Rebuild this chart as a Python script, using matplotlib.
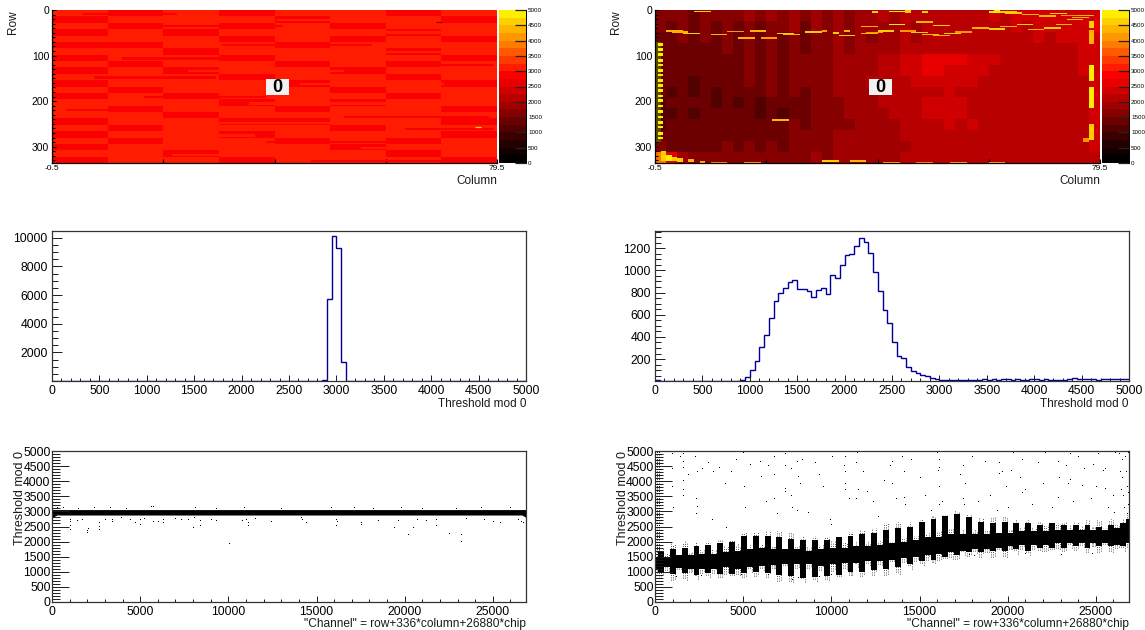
import numpy as np
import matplotlib
matplotlib.use("Agg")
import matplotlib.pyplot as plt
from matplotlib.colors import ListedColormap, BoundaryNorm
from matplotlib.patches import Rectangle
from matplotlib.ticker import MultipleLocator

plt.rcParams['font.family'] = ['Liberation Sans', 'DejaVu Sans']

# threshold maps, coarse cells (row blocks x column blocks)
map_left = [
    [3010, 2960, 3080, 2990, 3060, 3020, 2970, 3050],
    [2970, 3070, 3000, 3040, 2980, 3090, 3030, 2980],
    [3060, 2980, 3040, 2950, 3080, 2990, 3060, 3010],
    [2940, 3030, 2970, 3090, 3010, 3050, 2960, 3070],
    [3050, 3090, 3020, 2980, 3060, 2970, 3040, 2990],
    [2980, 2950, 3070, 3030, 2960, 3080, 3010, 3050],
    [3030, 3060, 2980, 3100, 3040, 3000, 2970, 3080],
    [2960, 3010, 3050, 2970, 3090, 3030, 3060, 2990],
    [3070, 2970, 3020, 3050, 2980, 3060, 2990, 3040],
    [2990, 3080, 2960, 3010, 3070, 2950, 3050, 3020],
    [3040, 3000, 3090, 2980, 3030, 3080, 2970, 3060],
    [2950, 3060, 3010, 3070, 2960, 3020, 3090, 2980],
    [3060, 2980, 3040, 3000, 3080, 2990, 3030, 3050],
    [2970, 3050, 2990, 3090, 3020, 3060, 2960, 3010],
    [3080, 3010, 3060, 2960, 3040, 2980, 3070, 3030],
    [3000, 2960, 3030, 3070, 2990, 3050, 3010, 2970],
    [3050, 3090, 2970, 3020, 3060, 3000, 3080, 3040],
    [2960, 3020, 3080, 2990, 2950, 3070, 3030, 2990],
    [3070, 2990, 3030, 3060, 3090, 2970, 3010, 3060],
    [2980, 3060, 3000, 2950, 3040, 3030, 3080, 2970],
    [3040, 2970, 3090, 3030, 2990, 3060, 2980, 3050],
    [2950, 3080, 3010, 3060, 3020, 2960, 3070, 3010],
    [3060, 3000, 2960, 3040, 3080, 3020, 2990, 3030],
    [2990, 3040, 3070, 2980, 3010, 3090, 3050, 2960],
]
# short row segments that break up the cells: row, first column, last column, threshold
seg_row_left = [6, 20, 33, 47, 61, 75, 90, 104, 118, 131, 146, 160, 174, 189, 203, 217, 232, 246, 259, 273, 287, 301, 316, 329]
seg_c0_left = [5, 40, 18, 58, 3, 30, 49, 12, 66, 24, 7, 44, 60, 16, 35, 2, 52, 27, 63, 10, 38, 55, 21, 46]
seg_c1_left = [22, 68, 41, 78, 26, 57, 75, 33, 79, 52, 29, 70, 79, 38, 64, 19, 78, 50, 79, 36, 62, 77, 43, 72]
seg_val_left = [2900, 3100, 2900, 3100, 3100, 2900, 3100, 2900, 2900, 3100, 2900, 3100, 3100, 2900, 3100, 2900, 2900, 3100, 2900, 3100, 2900, 3100, 3100, 2900]
map_right = [
    [1700, 1500, 1650, 1450, 1700, 1500, 1700, 1550, 1800, 1500, 1750, 1600, 1850, 1550, 1800, 1650, 1900, 1700, 1950, 1850, 2000, 1950, 2100, 2000, 2150, 2050, 2200, 2100, 2200, 2150, 2250, 2200, 2300, 2250, 2350, 2300, 2350, 2300, 2400, 2450],
    [1550, 1450, 1600, 1400, 1600, 1400, 1650, 1450, 1700, 1450, 1700, 1500, 1750, 1450, 1750, 1550, 1800, 1600, 1850, 1750, 1950, 1900, 2000, 1950, 2100, 2000, 2100, 2050, 2150, 2100, 2200, 2150, 2250, 2200, 2250, 2250, 2300, 2250, 2350, 2500],
    [1400, 1350, 1500, 1300, 1500, 1300, 1550, 1400, 1600, 1400, 1650, 1450, 1700, 1400, 1700, 1500, 1750, 1600, 1800, 1700, 1900, 1850, 2000, 1950, 2050, 2000, 2100, 2050, 2150, 2100, 2150, 2150, 2200, 2150, 2250, 2200, 2250, 2250, 2300, 2450],
    [1350, 1300, 1450, 1250, 1450, 1250, 1500, 1350, 1600, 1350, 1650, 1450, 1700, 1400, 1700, 1550, 1800, 1650, 1850, 1800, 1950, 1950, 2050, 2050, 2150, 2150, 2200, 2200, 2200, 2200, 2200, 2150, 2200, 2200, 2200, 2200, 2200, 2200, 2250, 2400],
    [1300, 1300, 1400, 1250, 1400, 1300, 1450, 1350, 1550, 1350, 1600, 1450, 1650, 1500, 1700, 1600, 1800, 1750, 1900, 1900, 2000, 2100, 2250, 2350, 2550, 2600, 2650, 2600, 2400, 2300, 2250, 2200, 2200, 2150, 2200, 2200, 2200, 2200, 2250, 2400],
    [1300, 1250, 1400, 1250, 1400, 1250, 1450, 1300, 1550, 1350, 1600, 1450, 1650, 1500, 1700, 1650, 1800, 1800, 1900, 1950, 2050, 2150, 2250, 2350, 2500, 2500, 2450, 2400, 2300, 2250, 2200, 2200, 2200, 2150, 2200, 2150, 2200, 2200, 2250, 2350],
    [1250, 1250, 1350, 1200, 1350, 1250, 1400, 1250, 1500, 1300, 1550, 1400, 1600, 1500, 1700, 1650, 1800, 1850, 1950, 2000, 2050, 2100, 2200, 2250, 2300, 2300, 2300, 2250, 2250, 2200, 2200, 2150, 2200, 2150, 2150, 2150, 2200, 2200, 2200, 2350],
    [1250, 1200, 1350, 1200, 1300, 1200, 1350, 1250, 1400, 1250, 1500, 1300, 1500, 1400, 1650, 1600, 1750, 1800, 1900, 1950, 2000, 2050, 2100, 2150, 2200, 2200, 2250, 2200, 2200, 2200, 2150, 2150, 2150, 2150, 2150, 2150, 2200, 2150, 2200, 2300],
    [1200, 1250, 1300, 1250, 1300, 1200, 1350, 1200, 1350, 1200, 1400, 1250, 1450, 1350, 1600, 1600, 1700, 1800, 1850, 1950, 2000, 2050, 2150, 2200, 2300, 2350, 2300, 2250, 2200, 2150, 2200, 2150, 2150, 2150, 2150, 2150, 2150, 2150, 2200, 2300],
    [1200, 1200, 1300, 1200, 1300, 1250, 1350, 1250, 1400, 1200, 1350, 1200, 1450, 1350, 1550, 1550, 1700, 1750, 1850, 1900, 1950, 2000, 2100, 2150, 2250, 2300, 2350, 2250, 2200, 2150, 2150, 2150, 2150, 2100, 2150, 2150, 2150, 2150, 2150, 2250],
    [1200, 1250, 1300, 1250, 1300, 1250, 1350, 1300, 1400, 1250, 1400, 1300, 1500, 1400, 1600, 1550, 1700, 1700, 1800, 1850, 1900, 1950, 2050, 2100, 2150, 2150, 2250, 2150, 2250, 2150, 2150, 2100, 2150, 2100, 2150, 2100, 2150, 2150, 2200, 2350],
    [1300, 1300, 1350, 1300, 1350, 1300, 1400, 1300, 1450, 1350, 1450, 1350, 1550, 1500, 1650, 1600, 1750, 1750, 1800, 1850, 1900, 1900, 2000, 2050, 2100, 2050, 2150, 2100, 2150, 2100, 2150, 2100, 2100, 2100, 2100, 2100, 2100, 2150, 2200, 2300],
    [1500, 1450, 1450, 1400, 1450, 1400, 1500, 1400, 1550, 1450, 1550, 1450, 1650, 1550, 1700, 1600, 1750, 1750, 1800, 1850, 1900, 1900, 1950, 2000, 2050, 2050, 2100, 2050, 2100, 2050, 2100, 2050, 2100, 2050, 2100, 2100, 2100, 2100, 2150, 2250],
    [3800, 2700, 1800, 1500, 1550, 1500, 1550, 1500, 1600, 1500, 1650, 1550, 1700, 1650, 1750, 1700, 1800, 1800, 1850, 1850, 1900, 1950, 2000, 2000, 2050, 2050, 2100, 2050, 2100, 2050, 2100, 2050, 2100, 2050, 2100, 2050, 2100, 2100, 2150, 2200],
]
# hot streaks on the right map: column, row, row height, threshold
hot_col = [78, 78, 78, 78, 78, 77, 2, 3, 5, 7, 10, 13, 15, 17, 19, 22, 23, 27, 30, 32, 34, 37, 40, 42, 44, 46, 48, 50, 52, 54, 57, 60, 62, 65, 67, 70, 72, 74, 75, 76, 39, 42, 45, 48, 60, 61, 62, 47, 50, 33, 37, 38, 21, 1, 2, 3, 4, 6, 8, 10, 30, 35, 41, 47, 53, 60, 16, 63, 66, 69, 71, 73]
hot_row = [25, 45, 120, 170, 250, 280, 45, 47, 50, 2, 52, 46, 60, 45, 60, 50, 52, 47, 45, 48, 45, 50, 45, 30, 45, 48, 52, 55, 50, 47, 38, 40, 35, 30, 42, 38, 30, 20, 15, 10, 3, 2, 1, 2, 2, 1, 3, 25, 33, 55, 35, 48, 240, 310, 318, 322, 326, 328, 332, 333, 330, 330, 333, 333, 333, 333, 333, 5, 8, 12, 6, 10]
hot_h = [14, 30, 35, 45, 35, 10, 3, 3, 3, 3, 3, 3, 3, 3, 3, 3, 3, 3, 4, 4, 4, 3, 3, 3, 3, 3, 3, 3, 3, 3, 3, 3, 3, 3, 3, 3, 3, 3, 3, 3, 4, 3, 6, 4, 4, 6, 3, 3, 3, 3, 3, 3, 3, 22, 14, 10, 8, 6, 4, 3, 3, 3, 3, 3, 3, 3, 3, 3, 3, 3, 3, 3]
hot_val = [4700, 4300, 4800, 4800, 4500, 4200, 4300, 4400, 4500, 4600, 4300, 4200, 4400, 4300, 4200, 4700, 4300, 4500, 4200, 4600, 4300, 4400, 4500, 4800, 4200, 4500, 4400, 4300, 4600, 4200, 4400, 4500, 4300, 4600, 4400, 4500, 4300, 4600, 4400, 4300, 4700, 4800, 4700, 4500, 4800, 4900, 4700, 4300, 4500, 4700, 4300, 4200, 4400, 4600, 4800, 4700, 4500, 4300, 4300, 4200, 4500, 4300, 4400, 4200, 4400, 4300, 4300, 4500, 4400, 4300, 4500, 4200]
# first column of the right map, dashes along rows 70 to 290
edge_rows = [72, 84, 94, 108, 118, 130, 140, 152, 162, 174, 186, 196, 208, 220, 232, 244, 254, 268, 278]
edge_val = 4800
streak_col = [76, 69]
streak_row = [256, 27]
streak_val = [4600, 1600]

# threshold histograms, 100 bins of 50 from 0 to 5000
hist_left = [0] * 56 + [8, 60, 5750, 10150, 9300, 1300, 30, 5] + [0] * 36
hist_right = [14, 3, 2, 2, 2, 2, 2, 2, 2, 2, 2, 2, 2, 2, 2, 2, 3, 5, 8, 40,
              100, 185, 305, 420, 570, 725, 800, 840, 895, 910, 835, 830, 815, 760, 820, 840, 790, 955, 930, 1045,
              1135, 1150, 1220, 1290, 1255, 1160, 985, 810, 640, 525, 355, 230, 205, 125, 90, 70, 55, 45, 30, 20,
              15, 14, 13, 12, 10, 14, 12, 15, 13, 18, 14, 16, 12, 18, 16, 14, 16, 15, 14, 18,
              17, 15, 16, 14, 13, 15, 12, 22, 28, 22, 24, 21, 16, 14, 20, 18, 18, 20, 19, 20]

# scatter band of the right panel, one edge pair per column of 336 channels
band_x = list(range(0, 26881, 336))
band_lo_right = [1100, 950, 1150, 930, 1120, 950, 1100, 900, 1100, 950, 1100, 930, 1150, 920, 1100,
                 950, 1150, 1000, 1200, 970, 1220, 900, 1250, 870, 1250, 800, 1250, 820, 1200, 850,
                 1250, 900, 1300, 1000, 1300, 1000, 1350, 1050, 1350, 1100, 1400, 1150, 1450, 1250, 1500,
                 1350, 1550, 1400, 1600, 1500, 1650, 1550, 1700, 1650, 1750, 1650, 1750, 1700, 1800, 1700,
                 1850, 1750, 1900, 1700, 1900, 1800, 1900, 1800, 1950, 1800, 1950, 1850, 1950, 1800, 1950,
                 1850, 1950, 1850, 1900, 1850, 1950]
band_hi_right = [1500, 1650, 1500, 1750, 1550, 1800, 1550, 1850, 1600, 1900, 1600, 1950, 1650, 2000, 1700,
                 2200, 1750, 2200, 1800, 2200, 1750, 2150, 1750, 2100, 1750, 2050, 1700, 2050, 1750, 2050,
                 1800, 2150, 1800, 2200, 1850, 2250, 1850, 2300, 1900, 2400, 1950, 2450, 2000, 2500, 2050,
                 2650, 2150, 2750, 2150, 2850, 2250, 2900, 2250, 2800, 2250, 2650, 2250, 2600, 2300, 2650,
                 2300, 2600, 2350, 2600, 2350, 2550, 2350, 2600, 2400, 2550, 2400, 2550, 2400, 2550, 2400,
                 2500, 2400, 2550, 2450, 2600, 2750]
band_lo_left = [2800, 2880, 2880, 2800]
band_hi_left = [3060, 3060, 3060, 3060]
band_x_left = [0, 280, 26650, 26880]
speck_pad = [60, 150, 90, 210, 40, 170, 110, 20, 130]

# outlying channels
out_x_left = [1000, 1000, 1000, 1000, 1400, 1700, 2000, 2000, 2050, 2650, 2650, 2650, 3000, 3400, 3400, 3900, 4400, 4700, 5000, 5000, 5200, 5700, 6000, 6300, 6300, 7000, 7300, 7700, 8000, 8050, 8400, 8400, 9000, 9300, 10050, 10800, 11000, 11100, 11100, 11500, 12400, 14100, 14200, 14400, 16100, 16100, 16150, 17500, 17500, 18500, 19400, 19600, 20200, 20500, 20700, 21200, 21800, 21800, 22500, 23200, 23200, 23500, 24500, 25000, 25400, 26400, 26600, 26700, 300, 600, 1500, 2400, 3300, 4200, 5600, 5700, 8100, 9300, 10900, 13000, 15800, 17100, 18200, 19800, 21000, 22900, 24300, 26000]
out_y_left = [2720, 2640, 2510, 2400, 2680, 2700, 2350, 2300, 2410, 2500, 2390, 2620, 2700, 2730, 2650, 2780, 2720, 2600, 2550, 2720, 2750, 2640, 2660, 2620, 2720, 2760, 2700, 2720, 2450, 2780, 2530, 2680, 2730, 2690, 1910, 2680, 2720, 2510, 2620, 2750, 2640, 2770, 2700, 2620, 2510, 2700, 2640, 2610, 2540, 2680, 2440, 2680, 2230, 2450, 2720, 2680, 2510, 2700, 2260, 2000, 2210, 2750, 2700, 2640, 2620, 2720, 2660, 2620, 3120, 3100, 3090, 3100, 3110, 3090, 3130, 3160, 3100, 3090, 3110, 3090, 3100, 3100, 3090, 3110, 3090, 3090, 3100, 3100]
out_x_right = [950, 950, 950, 1000, 1400, 1600, 1600, 1600, 1600, 1850, 2250, 2350, 2350, 2650, 3000, 3250, 3300, 3650, 3950, 4050, 4300, 4600, 5000, 5100, 5050, 5950, 6000, 6300, 6400, 6900, 7350, 7400, 7700, 7700, 7750, 8100, 8250, 8350, 8700, 9100, 9300, 9500, 9950, 10000, 10050, 10700, 10750, 11000, 11450, 11500, 11800, 12000, 12350, 12650, 13000, 13300, 13650, 14000, 14200, 14500, 15000, 15300, 15650, 16000, 16050, 16100, 16300, 17300, 17500, 17600, 18000, 18300, 18700, 19000, 19400, 19700, 19900, 20000, 20300, 20700, 21000, 21400, 21700, 22000, 22100, 22500, 22900, 23300, 23400, 23700, 24000, 24300, 24700, 25000, 25100, 25400, 25700, 26000, 26050, 26100, 7750, 8100, 9300, 10000, 15000, 21000, 23000, 24800, 1200, 2600, 4900, 6400, 13800, 18100, 17800, 26300, 26350, 26400, 26500, 26500, 26550, 26600, 26650, 26700, 26750, 26800, 26850, 26800, 26750, 26700,
               1610, 1610, 2360, 2360, 3310, 5380, 6720, 6720, 6720, 7390, 7390, 8060, 8060, 10750, 10750, 10750, 11420, 11420, 13440, 13440, 14110, 14110, 16130, 16130, 16130, 17470, 17470, 19490, 19490, 20160, 20830, 20830, 22850, 22850, 23520, 23520, 24190, 24860, 25530, 25530]
out_y_right = [4900, 4400, 3800, 3100, 4800, 4900, 4450, 4000, 3500, 4200, 4800, 3400, 2900, 4400, 4600, 2700, 5000, 4450, 3900, 2450, 4300, 4700, 4950, 3100, 3800, 4650, 4150, 3300, 4500, 2900, 3650, 4900, 4400, 3500, 3100, 4150, 3900, 4700, 2950, 4600, 4200, 3800, 2700, 2550, 4800, 4500, 3900, 3400, 4950, 3700, 4300, 3650, 3300, 2800, 4000, 4500, 3400, 4800, 3200, 4700, 4100, 3500, 3000, 4950, 4350, 3200, 3300, 4200, 3200, 3900, 4800, 3300, 4650, 3500, 3000, 4300, 3800, 3100, 4950, 4100, 3700, 3200, 4600, 3900, 4950, 3100, 4100, 4500, 3900, 3300, 4800, 4400, 3400, 3800, 4900, 4350, 3100, 3500, 2950, 4950, 730, 800, 820, 900, 1400, 1600, 1550, 1580, 820, 860, 880, 890, 1200, 1520, 1560, 4900, 4300, 3700, 4700, 4100, 3500, 3100, 4800, 4300, 3800, 3200, 4950, 3600, 2900, 2700,
               4650, 3700, 4300, 3150, 4300, 4550, 4800, 4200, 3400, 4500, 3750, 4650, 3000, 4800, 4300, 3700, 4600, 3400, 4650, 3900, 4300, 3450, 4700, 4450, 3800, 4500, 3400, 4600, 4250, 4350, 4700, 3600, 4650, 3450, 4900, 4050, 3850, 4550, 4400, 3750]
strip_col_x = [100, 230]

# colour scale, 20 steps of 250, bottom to top
level_colors = ['#000000', '#120000', '#240000', '#3a0000', '#520000', '#6c0000', '#860000', '#a00000', '#b80000', '#d00000',
                '#e80000', '#fa0000', '#ff1c00', '#ff3a00', '#ff5a00', '#ff7a00', '#ff9800', '#ffb400', '#ffd000', '#ffee00']
cmap = ListedColormap(level_colors)
norm = BoundaryNorm(np.arange(0, 5001, 250), 20)
dark = '#1a1a1a'


def make_ax(fig, x0, y0, x1, y1):
    # axes from picture pixels
    return fig.add_axes([x0 / 1145, 1 - y1 / 630, (x1 - x0) / 1145, (y1 - y0) / 630])


def heat(ax, cax, grid, label_x):
    grid = np.array(grid)
    col_edges = np.linspace(-0.5, 79.5, grid.shape[1] + 1)
    row_edges = np.linspace(0, 336, grid.shape[0] + 1)
    ax.pcolormesh(col_edges, row_edges, grid, cmap=cmap, norm=norm, rasterized=True)
    ax.set_xlim(-0.5, 79.5)
    ax.set_ylim(336, 0)
    ax.set_xticks([-0.5, 19.5, 39.5, 59.5, 79.5])
    ax.set_xticklabels(['-0.5', '', '', '', '79.5'])
    ax.yaxis.set_major_locator(MultipleLocator(100))
    ax.yaxis.set_minor_locator(MultipleLocator(10))
    ax.tick_params(axis='both', which='major', direction='in', length=3, width=0.8, pad=2)
    ax.tick_params(axis='x', labelsize=6, pad=1.5)
    ax.tick_params(axis='y', labelsize=7.5)
    ax.tick_params(axis='y', which='minor', direction='in', length=2, width=0.8)
    ax.text(1.0, -0.118, 'Column', transform=ax.transAxes, ha='right', va='center', fontsize=8.5, color=dark)
    ax.text(label_x, 1.0, 'Row', transform=ax.transAxes, ha='center', va='top', rotation=90, fontsize=8.5, color=dark)
    ax.add_patch(Rectangle((0.481, 0.444), 0.052, 0.105, transform=ax.transAxes, facecolor='#f2f2f2', edgecolor='none', zorder=6))
    ax.text(0.507, 0.494, '0', transform=ax.transAxes, ha='center', va='center', fontsize=13, fontweight='bold', zorder=7)
    for s in ['top', 'right']:
        ax.spines[s].set_visible(False)
    for s in ['left', 'bottom']:
        ax.spines[s].set_linewidth(0.9)
    # colour scale
    levels = np.arange(0, 5001, 250)
    cax.pcolormesh([0, 1], levels, (levels[:-1] + 125).reshape(-1, 1), cmap=cmap, norm=norm, rasterized=True)
    cax.set_xticks([])
    cax.set_ylim(0, 5000)
    cax.yaxis.tick_right()
    cax.set_yticks(np.arange(0, 5001, 500))
    cax.tick_params(axis='y', direction='in', length=8, width=0.9, labelsize=4.5, pad=1.5, color='#222222')
    for s in ['top', 'left', 'bottom']:
        cax.spines[s].set_visible(False)
    cax.spines['right'].set_linewidth(0.7)


def hist(ax, values, y_lim, y_major, y_minor):
    edges = np.arange(0, 5001, 50)
    ax.stairs(values, edges, color='#000099', linewidth=1.0, baseline=None)
    ax.set_xlim(0, 5000)
    ax.set_ylim(*y_lim)
    ax.xaxis.set_major_locator(MultipleLocator(500))
    ax.xaxis.set_minor_locator(MultipleLocator(100))
    ax.yaxis.set_major_locator(MultipleLocator(y_major))
    ax.yaxis.set_minor_locator(MultipleLocator(y_minor))
    ax.tick_params(axis='both', which='major', direction='in', length=4, width=0.7, labelsize=8.8, pad=3, color=dark)
    ax.tick_params(axis='y', which='major', length=7)
    ax.tick_params(axis='both', which='minor', direction='in', length=2, width=0.7, color=dark)
    ax.tick_params(axis='y', which='minor', length=4)
    ax.text(1.0, -0.155, 'Threshold mod 0', transform=ax.transAxes, ha='right', va='center', fontsize=8.5, color=dark)
    for s in ax.spines.values():
        s.set_linewidth(0.9)
        s.set_color('#333333')


def scatter(ax, label_x):
    ax.set_xlim(0, 26880)
    ax.set_ylim(0, 5000)
    ax.xaxis.set_major_locator(MultipleLocator(5000))
    ax.xaxis.set_minor_locator(MultipleLocator(1000))
    ax.yaxis.set_major_locator(MultipleLocator(500))
    ax.yaxis.set_minor_locator(MultipleLocator(100))
    ax.tick_params(axis='both', which='major', direction='in', length=4, width=0.7, labelsize=8.8, pad=3, color=dark)
    ax.tick_params(axis='y', which='major', length=12, pad=1)
    ax.tick_params(axis='both', which='minor', direction='in', length=2, width=0.7, color=dark)
    ax.tick_params(axis='y', which='minor', length=6)
    ax.text(1.0, -0.145, '"Channel" = row+336*column+26880*chip', transform=ax.transAxes, ha='right', va='center',
            fontsize=8.6, color=dark)
    ax.text(label_x, 1.0, 'Threshold mod 0', transform=ax.transAxes, ha='center', va='top', rotation=90,
            fontsize=9, color=dark)
    for s in ax.spines.values():
        s.set_linewidth(0.9)
        s.set_color('#333333')


fig = plt.figure(figsize=(11.45, 6.3), dpi=100)

# top row, maps
ax1 = make_ax(fig, 52, 10, 497, 163)
cax1 = make_ax(fig, 498.5, 10, 526, 163)
heat(ax1, cax1, map_left, -0.087)
for r, c0, c1, v in zip(seg_row_left, seg_c0_left, seg_c1_left, seg_val_left):
    ax1.fill_between([c0, c1], r, r + 5, color=cmap(norm(v)), linewidth=0, zorder=2)
ax1.scatter(streak_col[0], streak_row[0], marker='_', s=25, c=[streak_val[0]], cmap=cmap, norm=norm, linewidths=0.9, zorder=3)
ax1.scatter(streak_col[1], streak_row[1], marker='_', s=15, c=[streak_val[1]], cmap=cmap, norm=norm, linewidths=0.8, zorder=3)

ax2 = make_ax(fig, 655, 10, 1100, 163)
cax2 = make_ax(fig, 1101.5, 10, 1129, 163)
heat(ax2, cax2, map_right, -0.087)
for c, r, h, v in zip(hot_col, hot_row, hot_h, hot_val):
    ax2.fill_between([c - 0.5, c + 0.5 if h > 3 else c + 2.5], r, r + h, color=cmap(norm(v)), linewidth=0, zorder=2)
ax2.fill_between([-0.5, 0.5], 70, 290, color='#5a5000', linewidth=0, zorder=2)
for r in edge_rows:
    ax2.fill_between([0.0, 1.0], r, r + 6, color=cmap(norm(edge_val)), linewidth=0, zorder=3)

# middle row, histograms
ax3 = make_ax(fig, 52, 231, 526, 381)
hist(ax3, hist_left, (1, 10480), 2000, 500)
ax4 = make_ax(fig, 655, 231, 1129, 381)
hist(ax4, hist_right, (2, 1355), 200, 50)

# bottom row, threshold against channel
ax5 = make_ax(fig, 52, 451, 526, 602)
scatter(ax5, -0.068)
ax5.fill_between(band_x_left, band_lo_left, band_hi_left, color='black', linewidth=0)
ax5.plot(out_x_left, out_y_left, ',', color='black')

ax6 = make_ax(fig, 655, 451, 1129, 602)
scatter(ax6, -0.068)
ax6.fill_between(band_x, band_lo_right, band_hi_right, step='mid', color='black', linewidth=0)
# speckle round the band, the cloud is not solid at its edges
pads = np.resize(speck_pad, len(band_x))
pads2 = np.resize(speck_pad[::-1], len(band_x))
for shift, pad_lo, pad_hi in [(0, pads, pads2), (110, pads2, pads), (-110, pads, pads)]:
    ax6.vlines(np.array(band_x) + shift, np.array(band_lo_right) - pad_lo, np.array(band_hi_right) + pad_hi,
               color='black', linewidth=0.6, linestyles=(0, (0.9, 1.8)))
ax6.plot(out_x_right, out_y_right, ',', color='black')
ax6.vlines(strip_col_x, 1500, 5000, color='black', linewidth=0.7, linestyles=(0, (1, 1.5)))

fig.savefig('out.png', dpi=100)
